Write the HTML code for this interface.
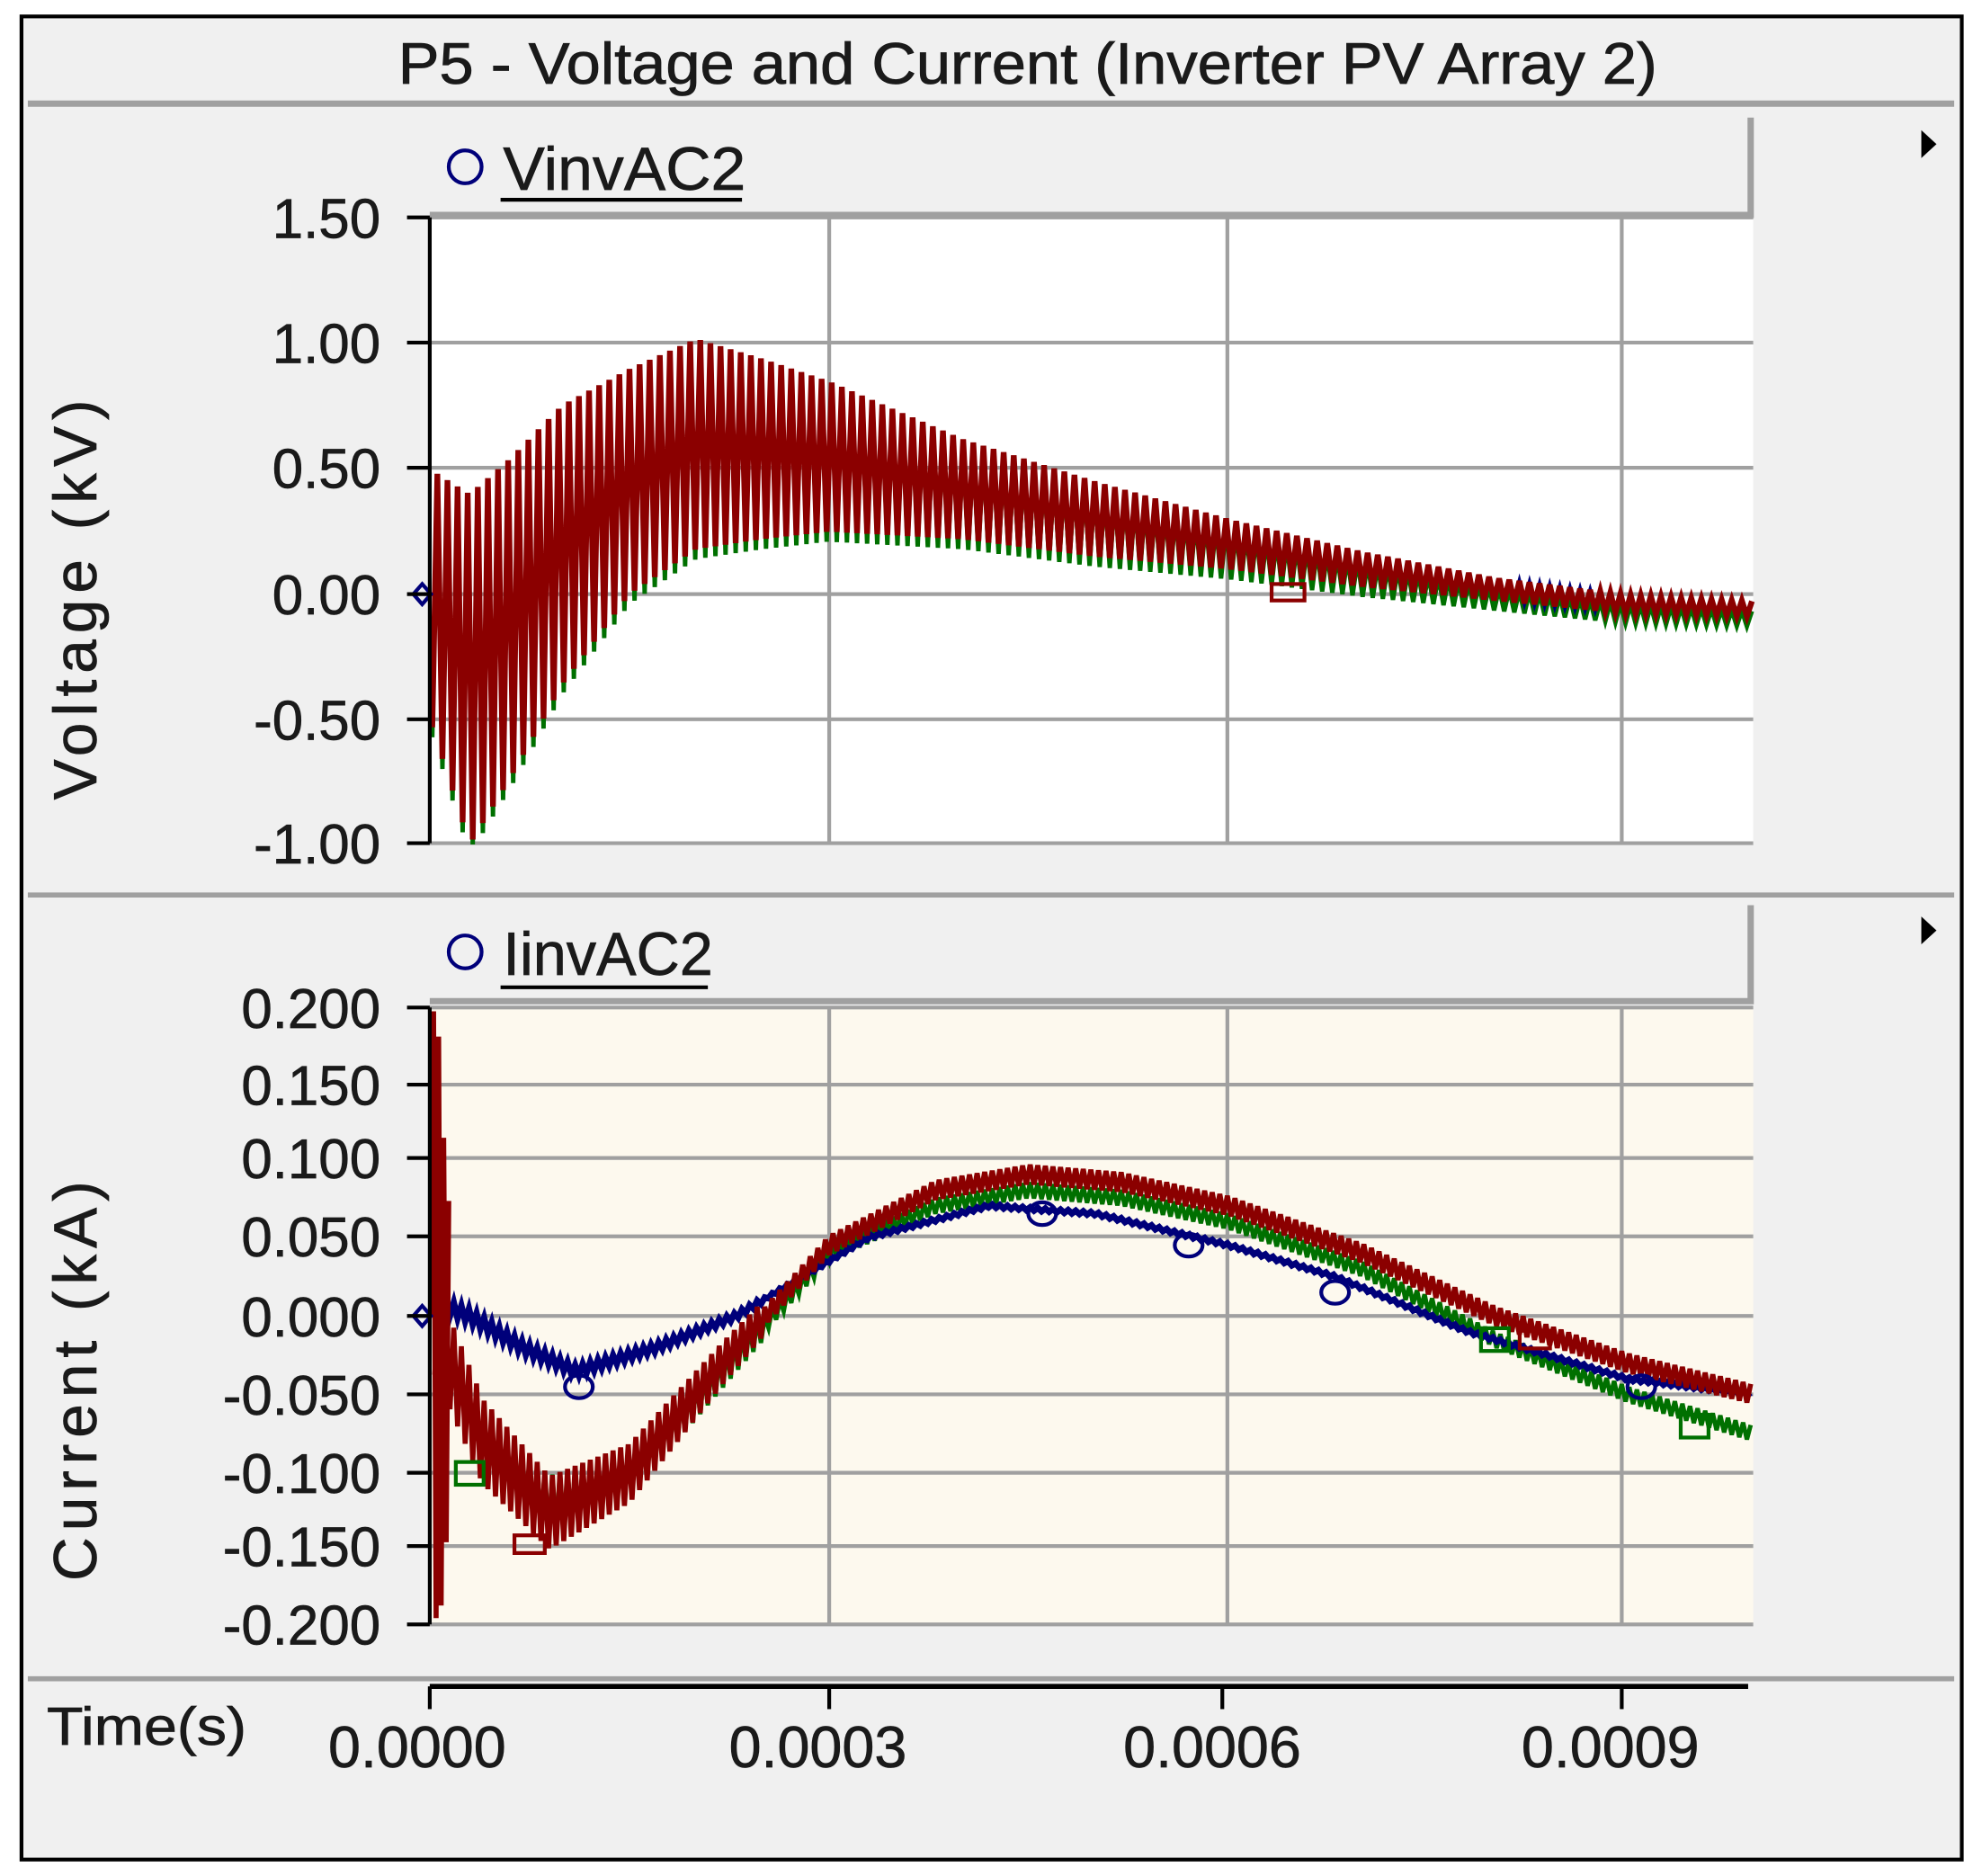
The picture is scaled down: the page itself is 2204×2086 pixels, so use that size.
<!DOCTYPE html>
<html><head><meta charset="utf-8"><style>
html,body{margin:0;padding:0;background:#fff}
svg{display:block}
text{font-family:"Liberation Sans",Arial,sans-serif;fill:#1a1a1a}
</style></head><body>
<svg id="s" width="2204" height="2086" viewBox="0 0 1568 1484" preserveAspectRatio="none" xmlns="http://www.w3.org/2000/svg">
<rect x="0" y="0" width="1568" height="1484" fill="#fff"/>
<rect x="17" y="13" width="1535" height="1458" fill="#f0f0f0" stroke="#000" stroke-width="3"/>
<line x1="22" y1="82" x2="1546" y2="82" stroke="#a0a0a0" stroke-width="5"/>
<text x="315" y="66" font-size="46" textLength="996" lengthAdjust="spacingAndGlyphs" stroke="#1a1a1a" stroke-width="0.6">P5 - Voltage and Current (Inverter PV Array 2)</text>
<line x1="22" y1="708" x2="1546" y2="708" stroke="#a0a0a0" stroke-width="4"/>
<line x1="22" y1="1328" x2="1546" y2="1328" stroke="#a0a0a0" stroke-width="4"/>
<!-- top panel -->
<rect x="340" y="93" width="1045" height="75" fill="#f0f0f0"/>
<path d="M1385,93 L1385,170 L340,170" fill="none" stroke="#a0a0a0" stroke-width="5"/>
<circle cx="368" cy="132" r="13" fill="none" stroke="#00007a" stroke-width="3"/>
<text x="398" y="150" font-size="48" textLength="192" lengthAdjust="spacingAndGlyphs" stroke="#1a1a1a" stroke-width="0.5">VinvAC2</text>
<line x1="396" y1="158" x2="587" y2="158" stroke="#000" stroke-width="3"/>
<polygon points="1520,103 1532,114 1520,125" fill="#000"/>
<rect x="340" y="172" width="1047" height="495" fill="#fff"/>
<g id="gtop" stroke="#a0a0a0" stroke-width="3"></g>
<g id="vdata"></g>
<line x1="340" y1="172" x2="340" y2="667" stroke="#000" stroke-width="3"/>
<!-- bottom panel -->
<rect x="340" y="716" width="1045" height="74" fill="#f0f0f0"/>
<path d="M1385,716 L1385,792 L340,792" fill="none" stroke="#a0a0a0" stroke-width="5"/>
<circle cx="368" cy="753" r="13" fill="none" stroke="#00007a" stroke-width="3"/>
<text x="398" y="771" font-size="48" textLength="166" lengthAdjust="spacingAndGlyphs" stroke="#1a1a1a" stroke-width="0.5">IinvAC2</text>
<line x1="396" y1="781" x2="560" y2="781" stroke="#000" stroke-width="3"/>
<polygon points="1520,725 1532,736 1520,747" fill="#000"/>
<rect x="340" y="797" width="1047" height="488" fill="#fdf9ee"/>
<g id="gbot" stroke="#a0a0a0" stroke-width="3"></g>
<g id="idata"></g>
<line x1="340" y1="797" x2="340" y2="1285" stroke="#000" stroke-width="3"/>
<!-- time axis -->
<line x1="340" y1="1334" x2="1383" y2="1334" stroke="#000" stroke-width="4"/>
<g stroke="#000" stroke-width="3"><line x1="340" y1="1334" x2="340" y2="1352"/><line x1="656" y1="1334" x2="656" y2="1352"/><line x1="967" y1="1334" x2="967" y2="1352"/><line x1="1283" y1="1334" x2="1283" y2="1352"/></g>
<g font-size="46" text-anchor="middle" stroke="#1a1a1a" stroke-width="0.5"><text x="330" y="1398">0.0000</text><text x="647" y="1398">0.0003</text><text x="959" y="1398">0.0006</text><text x="1274" y="1398">0.0009</text></g>
<text x="37" y="1380" font-size="42" textLength="158" lengthAdjust="spacingAndGlyphs" stroke="#1a1a1a" stroke-width="0.5">Time(s)</text>
<text transform="translate(76,472) rotate(-90)" font-size="48" text-anchor="middle" letter-spacing="5" stroke="#1a1a1a" stroke-width="0.5">Voltage (kV)</text>
<text transform="translate(76,1090) rotate(-90)" font-size="48" text-anchor="middle" letter-spacing="5" stroke="#1a1a1a" stroke-width="0.5">Current (kA)</text>
<g id="labs" font-size="44" text-anchor="end" stroke="#1a1a1a" stroke-width="0.5"></g>
</svg>
<script>
const NS="http://www.w3.org/2000/svg";
function el(p,n,a){const e=document.createElementNS(NS,n);for(const k in a)e.setAttribute(k,a[k]);p.appendChild(e);return e;}
const X=t=>340+t*1053.3;
const labs=document.getElementById('labs');
const gt=document.getElementById('gtop'),gb=document.getElementById('gbot');
const vt=[[1.5,172],[1,271],[0.5,370],[0,470],[-0.5,569],[-1,667]];
vt.forEach(([v,y])=>{el(gt,'line',{x1:340,y1:y,x2:1387,y2:y});el(labs,'line',{x1:322,y1:y,x2:340,y2:y,stroke:'#000','stroke-width':3});el(labs,'text',{x:301,y:y+16}).textContent=v.toFixed(2);});
const it=[[0.2,797],[0.15,858],[0.1,916],[0.05,978],[0,1041],[-0.05,1103],[-0.1,1165],[-0.15,1223],[-0.2,1285]];
it.forEach(([v,y])=>{el(gb,'line',{x1:340,y1:y,x2:1387,y2:y});el(labs,'line',{x1:322,y1:y,x2:340,y2:y,stroke:'#000','stroke-width':3});el(labs,'text',{x:301,y:y+16}).textContent=v.toFixed(3);});
[656,971,1283].forEach(x=>{el(gt,'line',{x1:x,y1:172,x2:x,y2:667});el(gb,'line',{x1:x,y1:797,x2:x,y2:1285});});
function interp(pts,t){for(let i=1;i<pts.length;i++){if(t<=pts[i][0]){const [a,b]=pts[i-1],[c,d]=pts[i];return b+(d-b)*(t-a)/(c-a);}}return pts[pts.length-1][1];}
const VY=v=>470-v*198;
const cen=[[0,0],[0.03,-0.3],[0.06,-0.1],[0.1,0.2],[0.15,0.45],[0.2,0.6],[0.25,0.58],[0.3,0.55],[0.4,0.42],[0.5,0.3],[0.6,0.2],[0.7,0.1],[0.8,0.02],[0.9,-0.04],[1.0,-0.06]];
const amp=[[0,0.5],[0.03,0.7],[0.08,0.6],[0.15,0.45],[0.2,0.42],[0.3,0.3],[0.4,0.2],[0.5,0.15],[0.6,0.1],[0.7,0.07],[0.8,0.045],[1,0.03]];
const vd=document.getElementById('vdata');
function zig(col,off,aScale,step,w){let d='';let k=0;for(let x=342;x<=1387;x+=step){const t=(x-340)/1053.3;const c=interp(cen,t)+off,a=interp(amp,t)*aScale;const v=(k%2?c+a:c-a);d+=(k?'L':'M')+x.toFixed(1)+','+VY(Math.max(-1.0,Math.min(1.06,v))).toFixed(1);k++;}el(vd,'path',{d,fill:'none',stroke:col,'stroke-width':w});}
zig('#007000',-0.04,1,4,3.5);
zig('#00007a',0,0.9,4,3.5);
zig('#8b0000',0,1,4,4.5);
el(vd,'path',{d:'M334,462 L341,470 L334,478 L327,470Z',fill:'none',stroke:'#00007a','stroke-width':3});
el(vd,'rect',{x:1006,y:462,width:26,height:13,fill:'none',stroke:'#8b0000','stroke-width':3});
const IY=v=>1041-v*1245;
const id=document.getElementById('idata');
const blue=[[0,0.01],[0.03,0.0],[0.07,-0.02],[0.11,-0.035],[0.17,-0.02],[0.23,0.0],[0.33,0.05],[0.42,0.07],[0.5,0.065],[0.6,0.045],[0.68,0.025],[0.78,-0.01],[0.9,-0.04],[0.995,-0.05]];
const red=[[0,0],[0.04,-0.08],[0.09,-0.125],[0.15,-0.1],[0.22,-0.03],[0.3,0.045],[0.38,0.08],[0.45,0.09],[0.52,0.085],[0.6,0.07],[0.7,0.04],[0.8,0.0],[0.9,-0.03],[0.995,-0.05]];
const green=[[0,0],[0.04,-0.08],[0.09,-0.12],[0.15,-0.1],[0.22,-0.035],[0.3,0.04],[0.38,0.07],[0.45,0.08],[0.52,0.075],[0.6,0.06],[0.7,0.03],[0.8,-0.015],[0.9,-0.05],[0.995,-0.075]];
function cur(pts,col,noise,w){let d='';let k=0;for(let x=344;x<=1387;x+=3){const t=(x-340)/1053.3;let v=interp(pts,t);const n=t<0.25?noise*(1.2-t*3):noise*0.25;v+=(k%2?n:-n);d+=(k?'L':'M')+x+','+IY(v).toFixed(1);k++;}el(id,'path',{d,fill:'none',stroke:col,'stroke-width':w});}
cur(green,'#007000',0.02,3.5);
cur(blue,'#00007a',0.004,5);
cur(red,'#8b0000',0.025,4);
el(id,'path',{d:'M341,1041 L343,800 L345,1280 L347,820 L349,1270 L351,900 L353,1220 L355,950',fill:'none',stroke:'#8b0000','stroke-width':4});
el(id,'path',{d:'M334,1033 L341,1041 L334,1049 L327,1041Z',fill:'none',stroke:'#00007a','stroke-width':3});
[[0.112,-0.045],[0.46,0.065],[0.57,0.045],[0.68,0.015],[0.91,-0.045]].forEach(([t,v])=>el(id,'ellipse',{cx:X(t),cy:IY(v),rx:11,ry:9,fill:'none',stroke:'#00007a','stroke-width':3}));
[[0.03,-0.1],[0.8,-0.015],[0.95,-0.07]].forEach(([t,v])=>el(id,'rect',{x:X(t)-11,y:IY(v)-9,width:22,height:18,fill:'none',stroke:'#007000','stroke-width':3}));
[[0.075,-0.145],[0.83,-0.015]].forEach(([t,v])=>el(id,'rect',{x:X(t)-12,y:IY(v)-7,width:24,height:14,fill:'none',stroke:'#8b0000','stroke-width':3}));
</script>
</body></html>
